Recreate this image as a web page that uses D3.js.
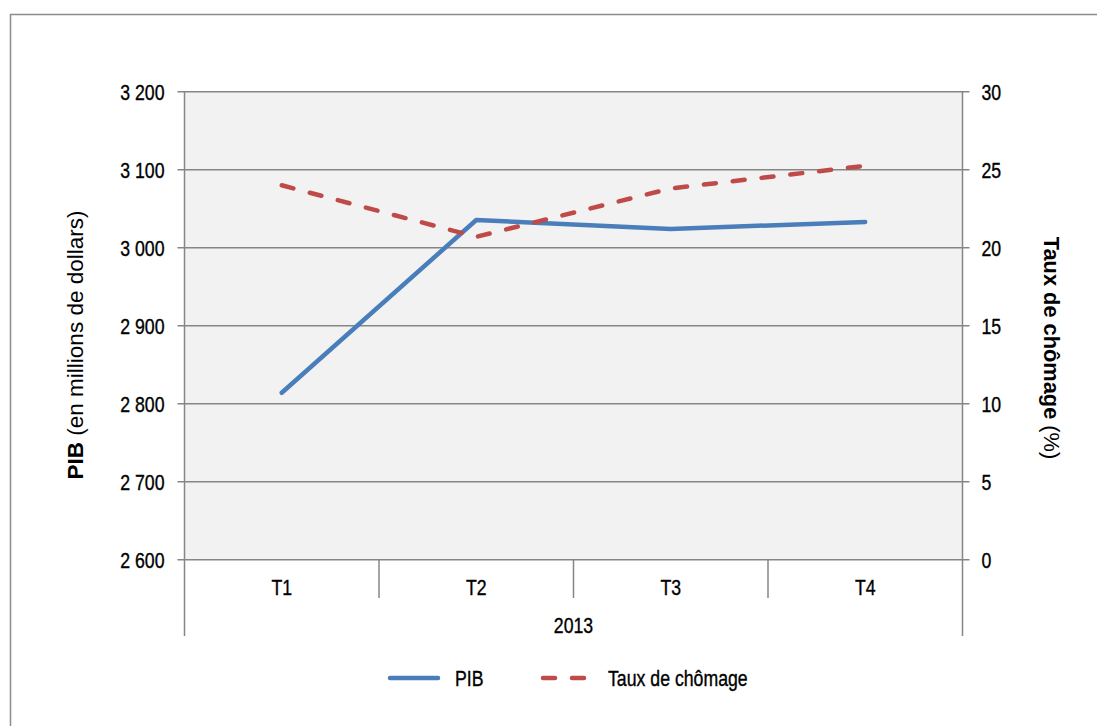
<!DOCTYPE html>
<html>
<head>
<meta charset="utf-8">
<script src="https://cdn.jsdelivr.net/npm/d3@7"></script>
<style>
  html, body { margin: 0; padding: 0; background: #fff; }
  svg text { font-family: "Liberation Sans", Arial, sans-serif; fill: #000; }
  svg text.lbl { stroke: #000; stroke-width: 0.3px; }
</style>
</head>
<body>
<svg id="chart" width="1097" height="726"></svg>
<script>
// Quarterly data, 2013
const quarters = ["T1", "T2", "T3", "T4"];
const pib = [2814, 3035.5, 3024, 3033];          // millions de dollars
const chomage = [24.0, 20.7, 23.8, 25.25];         // %
const pibTicks = [2600, 2700, 2800, 2900, 3000, 3100, 3200];
const chomageTicks = [0, 5, 10, 15, 20, 25, 30];
const yearLabel = "2013";

const svg = d3.select("#chart");
const fontSize = 17.7;
const tallScale = 1.2;      // labels are drawn slightly elongated vertically
const gridColor = "#868686";
const blue = "#4a7ebb";
const red = "#be4b48";

const plot = { left: 184.5, right: 962.5, top: 91.7, bottom: 559.7 };

// outer frame
svg.append("rect")
  .attr("x", 10.5).attr("y", 14.5)
  .attr("width", 1200).attr("height", 800)
  .attr("fill", "#fff").attr("stroke", "#8c8c8c").attr("stroke-width", 1.5);

const x = d3.scalePoint().domain(quarters).range([plot.left, plot.right]).padding(0.5);
const band = (plot.right - plot.left) / quarters.length;
const yL = d3.scaleLinear().domain([2600, 3200]).range([plot.bottom, plot.top]);
const yR = d3.scaleLinear().domain([0, 30]).range([plot.bottom, plot.top]);

// plot area background
svg.append("rect")
  .attr("x", plot.left).attr("y", plot.top)
  .attr("width", plot.right - plot.left).attr("height", plot.bottom - plot.top)
  .attr("fill", "#f2f2f2");

// horizontal gridlines
svg.append("g").selectAll("line").data(pibTicks).join("line")
  .attr("x1", plot.left - 7).attr("x2", plot.right + 7)
  .attr("y1", d => yL(d)).attr("y2", d => yL(d))
  .attr("stroke", gridColor).attr("stroke-width", 1.5);

// left axis
const leftAxis = d3.axisLeft(yL).tickValues(pibTicks)
  .tickFormat(d => d3.format(",")(d).replace(",", " "))
  .tickSize(0).tickPadding(20);
const gL = svg.append("g").attr("transform", `translate(${plot.left},0)`).call(leftAxis);
gL.select(".domain").remove();
gL.selectAll("text").classed("lbl", true).attr("dy", null)
  .attr("dominant-baseline", "central").style("font-size", fontSize + "px");

// right axis
const rightAxis = d3.axisRight(yR).tickValues(chomageTicks).tickSize(0).tickPadding(19);
const gR = svg.append("g").attr("transform", `translate(${plot.right},0)`).call(rightAxis);
gR.select(".domain").remove();
gR.selectAll("text").classed("lbl", true).attr("dy", null)
  .attr("dominant-baseline", "central").style("font-size", fontSize + "px");

// vertical axis lines (extend down through the category rows)
[plot.left, plot.right].forEach(px => {
  svg.append("line")
    .attr("x1", px).attr("x2", px)
    .attr("y1", plot.top).attr("y2", 636)
    .attr("stroke", gridColor).attr("stroke-width", 1.5);
});

// category separators
quarters.slice(1).forEach((q, i) => {
  const px = plot.left + band * (i + 1);
  svg.append("line")
    .attr("x1", px).attr("x2", px)
    .attr("y1", plot.bottom).attr("y2", 598)
    .attr("stroke", gridColor).attr("stroke-width", 1.5);
});

// category labels
svg.append("g").selectAll("text").data(quarters).join("text")
  .attr("class", "lbl")
  .attr("x", d => x(d)).attr("y", 587)
  .attr("text-anchor", "middle").attr("dominant-baseline", "central")
  .style("font-size", fontSize + "px")
  .text(d => d);

svg.append("text")
  .attr("class", "lbl")
  .attr("x", (plot.left + plot.right) / 2).attr("y", 625)
  .attr("text-anchor", "middle").attr("dominant-baseline", "central")
  .style("font-size", fontSize + "px")
  .text(yearLabel);

// series lines
const linePib = d3.line().x((d, i) => x(quarters[i])).y(d => yL(d));
const lineCho = d3.line().x((d, i) => x(quarters[i])).y(d => yR(d));

svg.append("path").datum(pib)
  .attr("d", linePib).attr("fill", "none")
  .attr("stroke", blue).attr("stroke-width", 4.5)
  .attr("stroke-linecap", "round").attr("stroke-linejoin", "round");

svg.append("path").datum(chomage)
  .attr("d", lineCho).attr("fill", "none")
  .attr("stroke", red).attr("stroke-width", 4.5)
  .attr("stroke-dasharray", "12 17")
  .attr("stroke-linecap", "round");

// axis titles
const tL = svg.append("text")
  .attr("transform", "translate(75,345) rotate(-90)")
  .attr("text-anchor", "middle").attr("dominant-baseline", "central")
  .style("font-size", "22.5px");
tL.append("tspan").style("font-weight", "bold").text("PIB");
tL.append("tspan").text(" (en millions de dollars)");

const tR = svg.append("text")
  .attr("transform", "translate(1052,348) rotate(90)")
  .attr("text-anchor", "middle").attr("dominant-baseline", "central")
  .style("font-size", "21.8px");
tR.append("tspan").style("font-weight", "bold").text("Taux de chômage");
tR.append("tspan").text(" (%)");

// legend
const legend = svg.append("g");
legend.append("line")
  .attr("x1", 390).attr("x2", 438).attr("y1", 678).attr("y2", 678)
  .attr("stroke", blue).attr("stroke-width", 4.5).attr("stroke-linecap", "round");
legend.append("text")
  .attr("class", "lbl")
  .attr("x", 455).attr("y", 678).attr("dominant-baseline", "central")
  .style("font-size", fontSize + "px").text("PIB");
legend.append("line")
  .attr("x1", 543).attr("x2", 588).attr("y1", 678).attr("y2", 678)
  .attr("stroke", red).attr("stroke-width", 4.5)
  .attr("stroke-dasharray", "12 17").attr("stroke-linecap", "round");
legend.append("text")
  .attr("class", "lbl")
  .attr("x", 608).attr("y", 678).attr("dominant-baseline", "central")
  .style("font-size", fontSize + "px").text("Taux de chômage");

// stretch tick, category and legend labels vertically around their anchor
svg.selectAll("text.lbl").each(function () {
  const t = d3.select(this);
  const tx = +t.attr("x") || 0;
  const ty = +t.attr("y") || 0;
  const base = t.attr("transform") || "";
  t.attr("x", 0).attr("y", 0)
   .attr("transform", `${base} translate(${tx},${ty}) scale(1,${tallScale})`);
});
</script>
</body>
</html>
